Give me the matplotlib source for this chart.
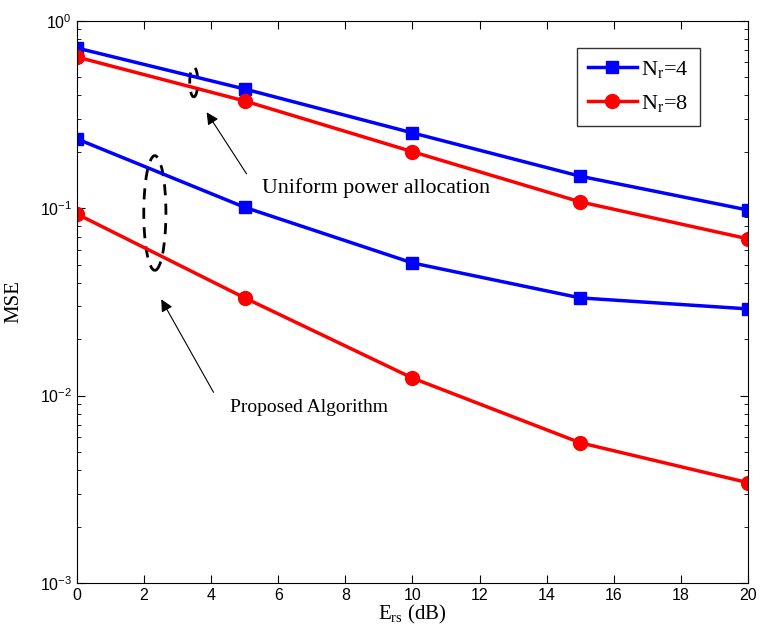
import matplotlib
matplotlib.use("Agg")
import matplotlib.pyplot as plt
from matplotlib.patches import Ellipse

snr_db = [0, 5, 10, 15, 20]
uniform_nr4 = [0.715, 0.432, 0.252, 0.148, 0.0977]
uniform_nr8 = [0.64, 0.373, 0.200, 0.108, 0.0686]
proposed_nr4 = [0.234, 0.101, 0.051, 0.0332, 0.029]
proposed_nr8 = [0.093, 0.0332, 0.0124, 0.0056, 0.00343]

fig = plt.figure(figsize=(7.64, 6.41), dpi=100)
ax = fig.add_axes([0.1008, 0.0905, 0.8782, 0.8772])

ax.semilogy(snr_db, uniform_nr4, '-s', color='blue', lw=2.5, ms=9, label='N$_\\mathregular{r}$=4')
ax.semilogy(snr_db, uniform_nr8, '-o', color='red', lw=2.5, ms=10, label='N$_\\mathregular{r}$=8')
ax.semilogy(snr_db, proposed_nr4, '-s', color='blue', lw=2.5, ms=9)
ax.semilogy(snr_db, proposed_nr8, '-o', color='red', lw=2.5, ms=10)

ax.set_xlim(0, 20)
ax.set_ylim(1e-3, 1)
ax.set_xticks(range(0, 21, 2))
ax.tick_params(which='both', direction='in', top=True, right=True, labelsize=11.5)
ax.tick_params(which='major', length=6)
ax.tick_params(which='minor', length=3)
for lab in ax.get_xticklabels() + ax.get_yticklabels():
    lab.set_family('Liberation Sans')

ax.set_xlabel('E$_\\mathregular{rs}$ (dB)', family='Liberation Serif', fontsize=15, labelpad=0)
ax.set_ylabel('MSE', family='Liberation Serif', fontsize=15, labelpad=12)

# dashed ellipses marking the curve groups
ax.add_patch(Ellipse((0.174, 0.891), 0.012, 0.053, transform=ax.transAxes,
                     fill=False, ls=(0, (4, 3)), lw=2, color='black'))
ax.add_patch(Ellipse((0.116, 0.658), 0.033, 0.204, transform=ax.transAxes,
                     fill=False, ls=(0, (4, 3)), lw=2, color='black'))

ax.annotate('', xy=(3.82, 0.334), xytext=(5.1, 0.148),
            arrowprops=dict(arrowstyle='-|>', color='black', lw=0.8, mutation_scale=18))
ax.text(5.5, 0.128, 'Uniform power allocation', family='Liberation Serif',
        fontsize=15.8, va='center')
ax.annotate('', xy=(2.47, 0.0336), xytext=(4.11, 0.0101),
            arrowprops=dict(arrowstyle='-|>', color='black', lw=0.8, mutation_scale=18))
ax.text(4.56, 0.0086, 'Proposed Algorithm', family='Liberation Serif',
        fontsize=14, va='center')

leg = ax.legend(loc='upper right', bbox_to_anchor=(0.928, 0.9515), borderaxespad=0,
                fancybox=False, edgecolor='black',
                prop={'family': 'Liberation Serif', 'size': 16},
                handlelength=2.2, borderpad=0.5, labelspacing=0.55, handletextpad=0.2)
leg.get_frame().set_linewidth(1.0)

fig.savefig('out.png', dpi=100)
